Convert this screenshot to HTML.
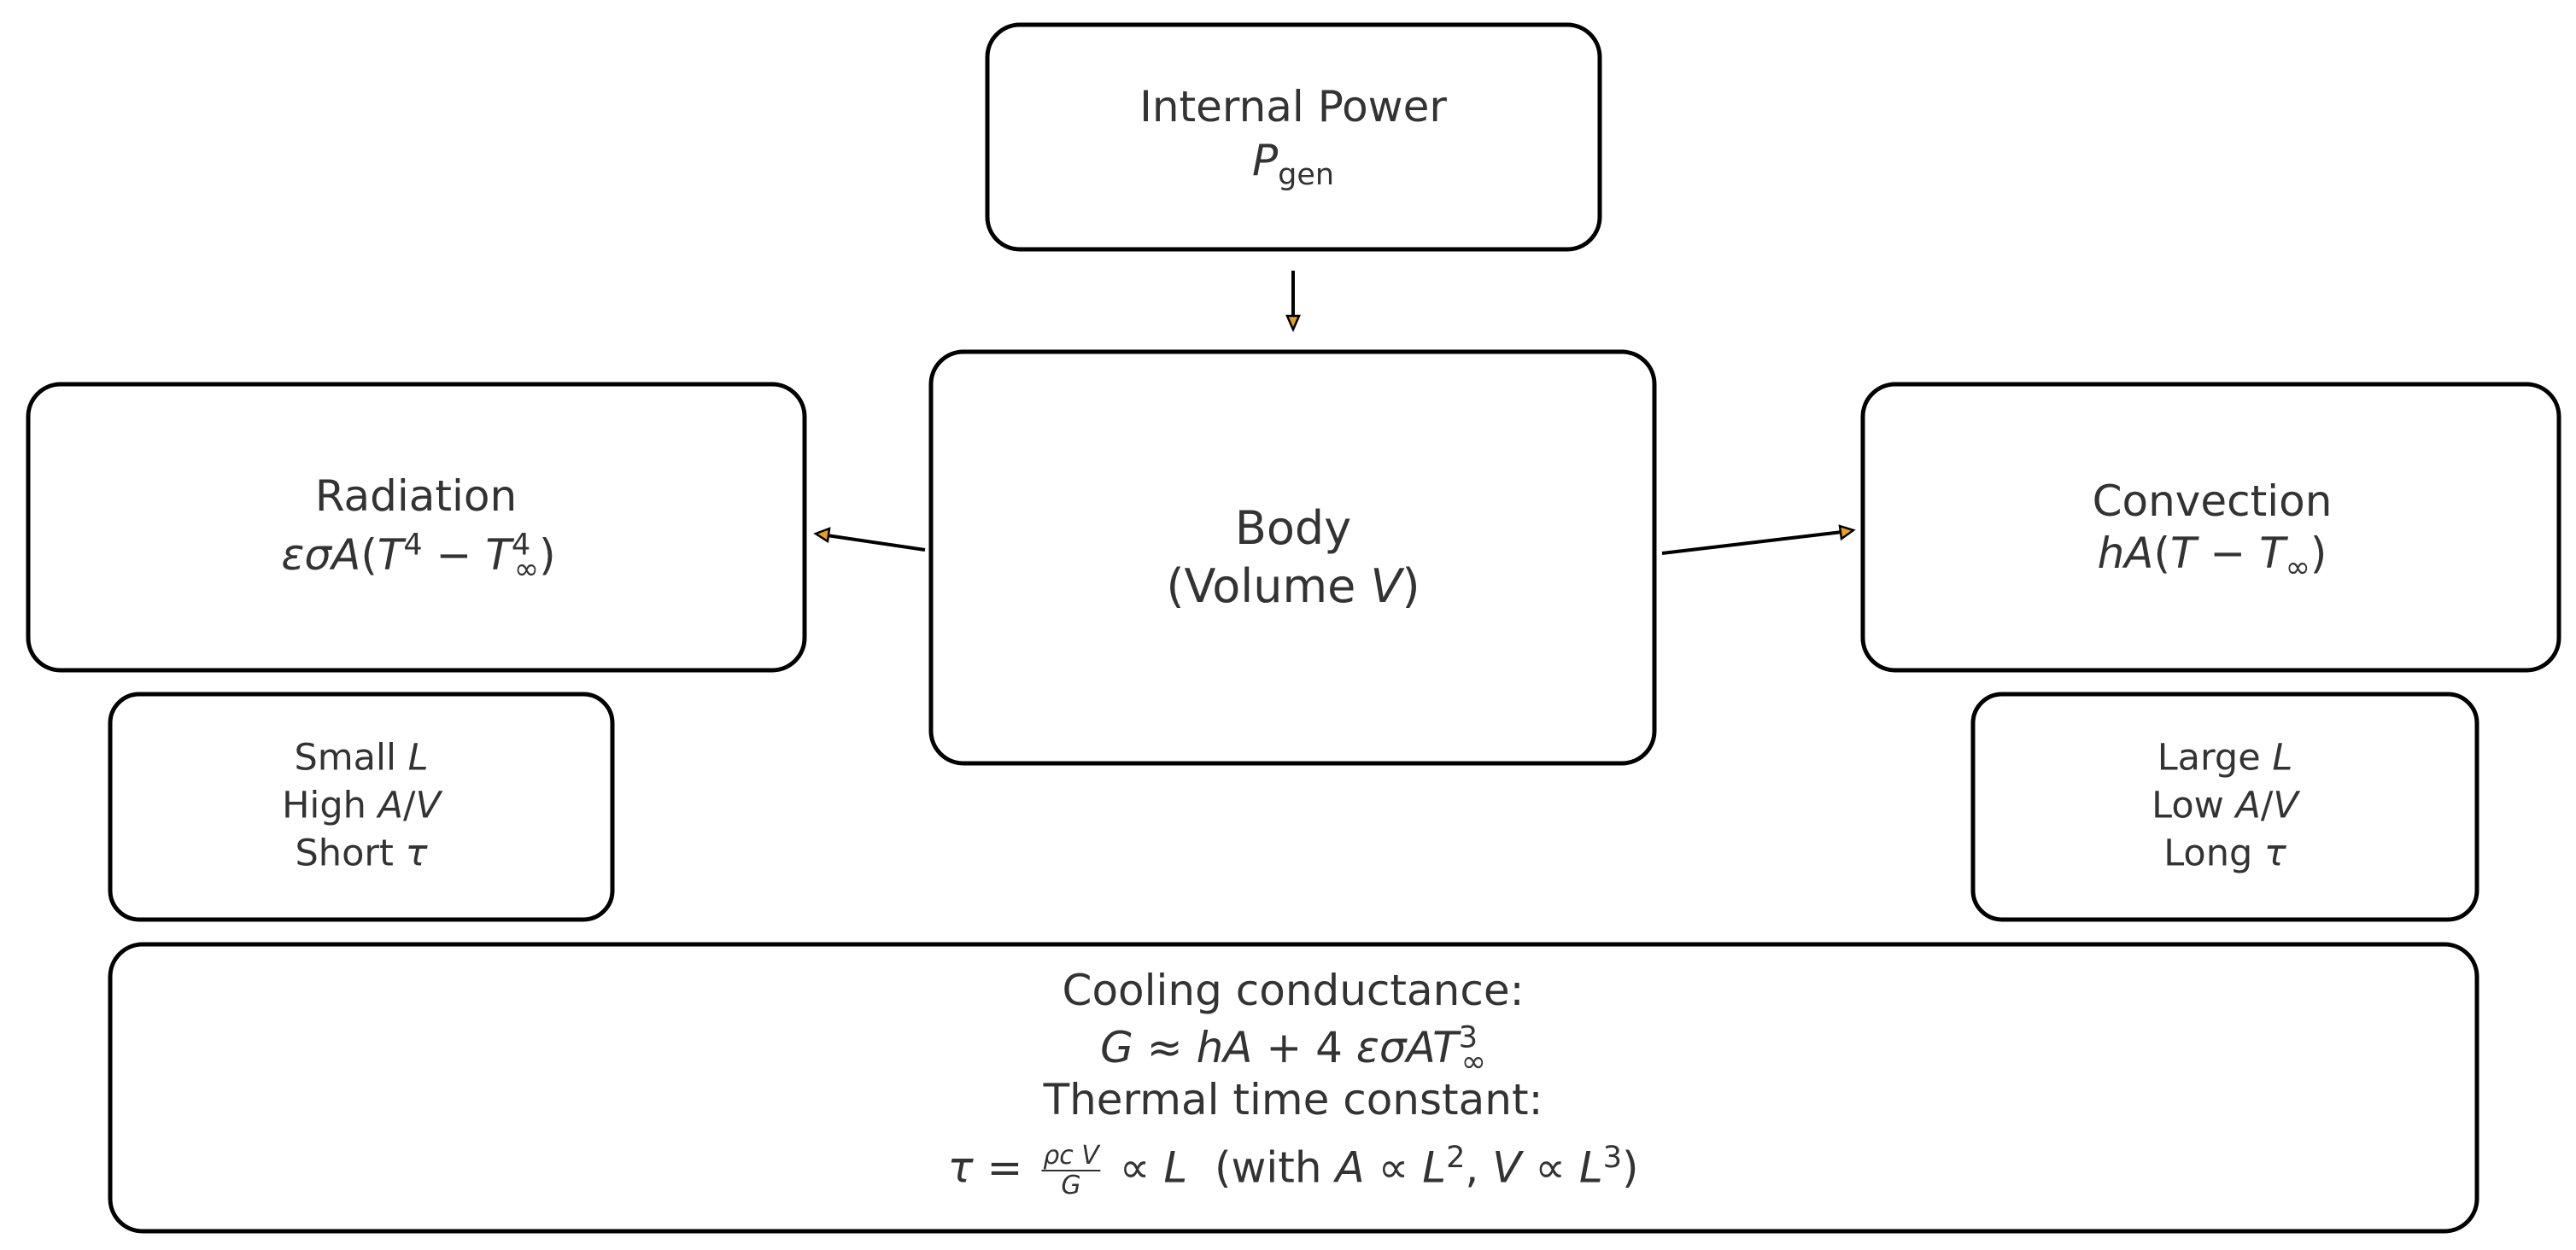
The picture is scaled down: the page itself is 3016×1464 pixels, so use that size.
<!DOCTYPE html>
<html><head><meta charset="utf-8"><style>
body{margin:0;width:3016px;height:1464px;background:#fff;overflow:hidden;position:relative;font-family:"DejaVu Sans","Liberation Sans",sans-serif;color:#333}
.t{position:absolute;transform:translate(-50%,-50%);white-space:nowrap;text-align:center;line-height:1}
i{font-style:italic}
sub,sup{font-size:0.7em;line-height:0}
.f{display:inline-block;vertical-align:middle;font-size:0.6em;text-align:center;line-height:1.1;margin:0 6px}
.f span{display:block}
.f .n{border-bottom:2px solid #333;padding:0 2px}
</style></head><body>
<svg width="3016" height="1464" style="position:absolute;left:0;top:0">
<g fill="none" stroke="#000" stroke-width="5">
<rect x="1156" y="29" width="717" height="263" rx="38"/>
<rect x="1090" y="412" width="847" height="482" rx="38"/>
<rect x="33" y="450" width="909" height="335" rx="38"/>
<rect x="2181" y="450" width="815" height="335" rx="38"/>
<rect x="129" y="813" width="588" height="264" rx="34"/>
<rect x="2310" y="813" width="590" height="264" rx="34"/>
<rect x="129" y="1106" width="2771" height="336" rx="38"/>
</g>
<g stroke="#000" stroke-width="4">
<line x1="1514" y1="317" x2="1514" y2="372"/>
<line x1="1083" y1="644" x2="968" y2="627"/>
<line x1="1946" y1="648" x2="2157" y2="623"/>
</g>
<g fill="#e8a020" stroke="#000" stroke-width="2.5">
<polygon points="1507,370 1521,370 1514,386"/>
<polygon points="971,619 969,634 955,625"/>
<polygon points="2154,616 2156,631 2170,621"/>
</g>
</svg>
<div class="t" style="left:1514px;top:125px;font-size:50px">Internal Power</div>
<div class="t" style="left:1514px;top:188px;font-size:50px"><i>P</i><sub>gen</sub></div>
<div class="t" style="left:487px;top:581px;font-size:50px">Radiation</div>
<div class="t" style="left:490px;top:650px;font-size:50px"><i>εσA</i>(<i>T</i><sup>4</sup> − <i>T</i><sup>4</sup><sub style="margin-left:-0.55em">∞</sub>)</div>
<div class="t" style="left:1514px;top:619px;font-size:54px">Body</div>
<div class="t" style="left:1514px;top:687px;font-size:54px">(Volume <i>V</i>)</div>
<div class="t" style="left:2590px;top:587px;font-size:50px">Convection</div>
<div class="t" style="left:2590px;top:648px;font-size:50px"><i>hA</i>(<i>T</i> − <i>T</i><sub>∞</sub>)</div>
<div class="t" style="left:423px;top:888px;font-size:43px">Small <i>L</i></div>
<div class="t" style="left:423px;top:944px;font-size:43px">High <i>A</i>/<i>V</i></div>
<div class="t" style="left:423px;top:1000px;font-size:43px">Short <i>τ</i></div>
<div class="t" style="left:2605px;top:888px;font-size:43px">Large <i>L</i></div>
<div class="t" style="left:2605px;top:944px;font-size:43px">Low <i>A</i>/<i>V</i></div>
<div class="t" style="left:2605px;top:1000px;font-size:43px">Long <i>τ</i></div>
<div class="t" style="left:1514px;top:1160px;font-size:50px">Cooling conductance:</div>
<div class="t" style="left:1514px;top:1227px;font-size:50px"><i>G</i> ≈ <i>hA</i> + 4 <i>εσAT</i><sup>3</sup><sub style="margin-left:-0.55em">∞</sub></div>
<div class="t" style="left:1514px;top:1288px;font-size:50px">Thermal time constant:</div>
<div class="t" style="left:1514px;top:1371px;font-size:50px"><i>τ</i> = <span class="f"><span class="n"><i>ρc V</i></span><span><i>G</i></span></span> ∝ <i>L</i> &nbsp;(with <i>A</i> ∝ <i>L</i><sup>2</sup>, <i>V</i> ∝ <i>L</i><sup>3</sup>)</div>
</body></html>
